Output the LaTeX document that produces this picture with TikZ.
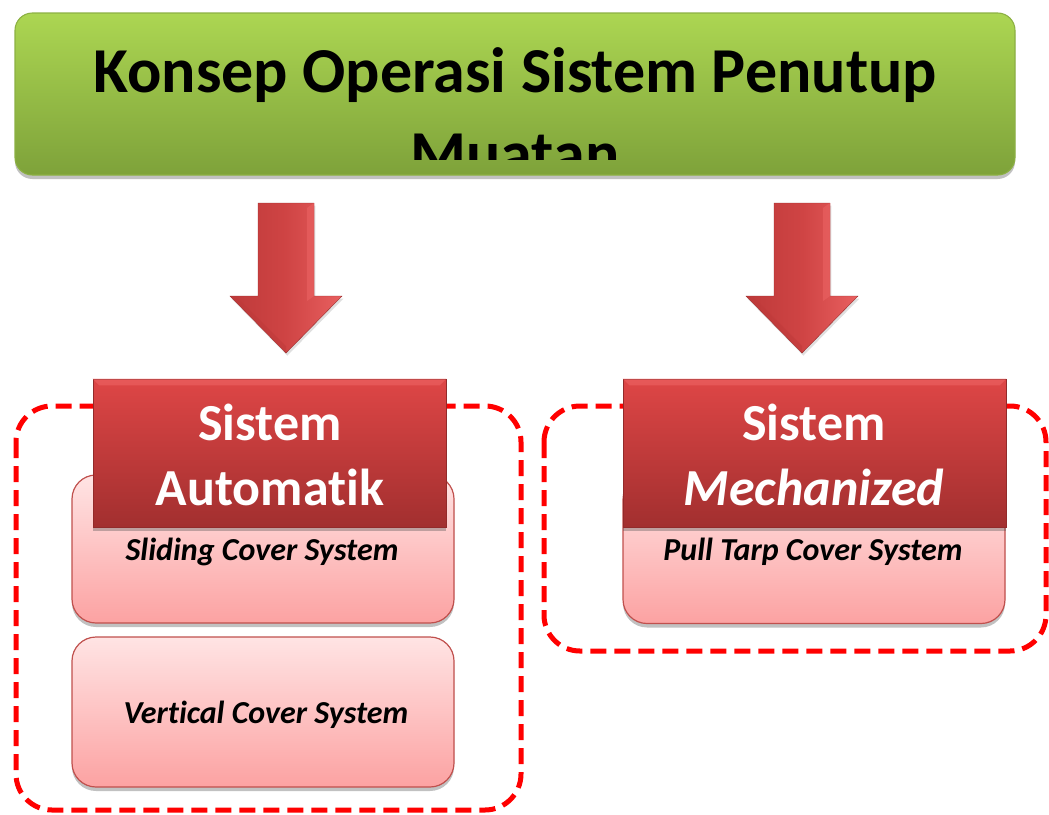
\documentclass[tikz,border=0pt]{standalone}
\usepackage{fontspec}
\setmainfont{Carlito}[Ligatures={NoCommon}]
\usetikzlibrary{shadows}
\definecolor{gTop}{HTML}{ACD652}
\definecolor{gBot}{HTML}{7EA23A}
\definecolor{gBor}{HTML}{8CB043}
\definecolor{hTop}{HTML}{DE4646}
\definecolor{hBot}{HTML}{A22F2F}
\definecolor{hHi}{HTML}{F06A6A}
\definecolor{pTop}{HTML}{FFE4E4}
\definecolor{pBot}{HTML}{FCA2A2}
\definecolor{pBor}{HTML}{C0504D}
\definecolor{aDark}{HTML}{BE3A3A}
\definecolor{aMid}{HTML}{CF4444}
\definecolor{aLight}{HTML}{E86060}
\definecolor{dashRed}{HTML}{FF0000}
\tikzset{
  softshadow/.style={drop shadow={shadow xshift=0pt, shadow yshift=-3pt, opacity=0.35, fill=black!70}},
  titlebox/.style={rectangle, rounded corners=13pt, minimum width=750pt, minimum height=121.5pt,
    top color=gTop, bottom color=gBot, draw=gBor, line width=0.8pt, softshadow, inner sep=0pt},
  headbox/.style={rectangle, minimum height=111pt, top color=hTop, bottom color=hBot,
    draw=hBot!90!black, line width=0.6pt, softshadow, inner sep=0pt},
  pinkbox/.style={rectangle, rounded corners=18pt, minimum height=111pt, top color=pTop, bottom color=pBot,
    draw=pBor, line width=0.9pt, softshadow, inner sep=0pt},
  groupbox/.style={draw=dashRed, line width=3.75pt, dash pattern=on 12pt off 6pt, rounded corners=27pt},
  titletext/.style={font=\fontsize{48}{60}\selectfont\bfseries, text=black, anchor=base, inner sep=0pt},
  headtext/.style={font=\fontsize{39}{47}\selectfont\bfseries, text=white, anchor=base, inner sep=0pt},
  itemtext/.style={font=\fontsize{24}{28}\selectfont\bfseries\itshape, text=black, anchor=base, inner sep=0pt},
  arrowfill/.style={left color=aDark, right color=aLight, middle color=aMid, draw=aDark!80!black, line width=0.3pt,
    drop shadow={shadow xshift=1pt, shadow yshift=-2pt, opacity=0.25}},
}
\newcommand{\redblockarrow}[1]{%
  \path[arrowfill] (#1-28,203) -- (#1+28,203) -- (#1+28,296) -- (#1+56,296) -- (#1,353)
     -- (#1-56,296) -- (#1-28,296) -- cycle;
  \fill[aLight, opacity=0.7] (#1+21,208) -- (#1+28,203) -- (#1+28,296) -- (#1+21,301) -- cycle;
  \fill[aDark, opacity=0.5] (#1-56,296) -- (#1-46,300) -- (#1,346) -- (#1,353) -- cycle;
}
\begin{document}
\begin{tikzpicture}[x=0.75pt,y=-0.75pt]
\useasboundingbox (0,0) rectangle (1049,814);

% title
\node[titlebox] (title) at (515,94) {};
\begin{scope}
  \clip (15,13) rectangle (1015,159);
  \node[titletext] (t1) at (515,92) {Konsep Operasi Sistem Penutup};
  \node[titletext] (t2) at (515,175) {Muatan};
\end{scope}

% arrows
\redblockarrow{286}
\redblockarrow{802}

% group frames
\draw[groupbox] (16,406) rectangle (521,810);
\draw[groupbox] (544,406) rectangle (1046,651);

% item boxes
\node[pinkbox, minimum width=286.5pt] (sliding) at (263,549) {};
\node[pinkbox, minimum width=286.5pt, minimum height=112.5pt] (vertical) at (263,712) {};
\node[pinkbox, minimum width=286.5pt] (pull) at (814,549.5) {};

% headers
\node[headbox, minimum width=264.75pt] (hauto) at (269.5,453) {};
\node[headbox, minimum width=287.25pt] (hmech) at (814.5,453) {};
\fill[hHi, opacity=0.5] (hauto.north west) -- (hauto.north east) -- ([xshift=-5pt,yshift=-5pt]hauto.north east) -- ([xshift=5pt,yshift=-5pt]hauto.north west) -- cycle;
\fill[hHi, opacity=0.5] (hmech.north west) -- (hmech.north east) -- ([xshift=-5pt,yshift=-5pt]hmech.north east) -- ([xshift=5pt,yshift=-5pt]hmech.north west) -- cycle;

% texts
\node[headtext] (ha1) at (270,440) {Sistem};
\node[headtext] (ha2) at (270,505) {Automatik};
\node[headtext] (hm1) at (814,440) {Sistem};
\node[headtext] (hm2) at (814,505) {\itshape Mechanized};
\node[itemtext] (s1) at (262,560) {Sliding Cover System};
\node[itemtext] (v1) at (266,723) {Vertical Cover System};
\node[itemtext] (p1) at (813,560) {Pull Tarp Cover System};
\end{tikzpicture}
\end{document}
